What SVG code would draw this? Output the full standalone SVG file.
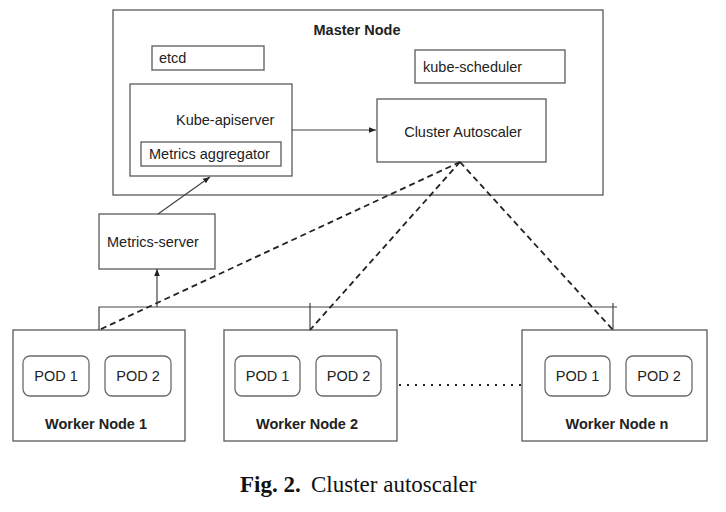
<svg xmlns="http://www.w3.org/2000/svg" width="726" height="512" viewBox="0 0 726 512">
<defs>
<style>
.box{fill:#fff;stroke:#5a5a5a;stroke-width:1.3}
.pod{fill:#fff;stroke:#6a6a6a;stroke-width:1.3}
.t{font-family:"Liberation Sans",Arial,sans-serif;font-size:14.5px;fill:#222}
.b{font-weight:bold}
.ln{fill:none;stroke:#444;stroke-width:1.2}
.dash{fill:none;stroke:#222;stroke-width:1.8;stroke-dasharray:6 4}
.dot{fill:none;stroke:#222;stroke-width:1.8;stroke-dasharray:2 6}
.cap{font-family:"Liberation Serif","Times New Roman",serif;font-size:23px;fill:#111}
</style>
<marker id="ah" viewBox="0 0 10 10" refX="10" refY="5" markerWidth="7" markerHeight="7" markerUnits="userSpaceOnUse" orient="auto">
<path d="M0,1 L10,5 L0,9 Z" fill="#222"/>
</marker>
</defs>
<rect width="726" height="512" fill="#fff"/>

<g id="master-node">
<rect class="box" x="113" y="10" width="490" height="185"/>
<text class="t b" x="357" y="35" text-anchor="middle">Master Node</text>
</g>
<g id="etcd">
<rect class="box" x="152" y="46" width="112" height="24"/>
<text class="t" x="159" y="63">etcd</text>
</g>
<g id="kube-scheduler">
<rect class="box" x="415" y="50" width="150" height="33"/>
<text class="t" x="423" y="72">kube-scheduler</text>
</g>
<g id="kube-apiserver">
<rect class="box" x="130" y="84" width="162" height="92"/>
<text class="t" x="176" y="125">Kube-apiserver</text>
</g>
<g id="metrics-aggregator">
<rect class="box" x="141" y="142" width="140" height="24"/>
<text class="t" x="149" y="159">Metrics aggregator</text>
</g>
<g id="cluster-autoscaler">
<rect class="box" x="377" y="99" width="169" height="63"/>
<text class="t" x="463" y="137" text-anchor="middle">Cluster Autoscaler</text>
</g>
<g id="metrics-server">
<rect class="box" x="99" y="214" width="116" height="55"/>
<text class="t" x="107" y="247">Metrics-server</text>
</g>

<g id="worker-node-1">
<rect class="box" x="13" y="330" width="172" height="111"/>
<rect class="pod" x="23" y="356" width="66" height="40" rx="7"/>
<text class="t" x="56" y="381" text-anchor="middle">POD 1</text>
<rect class="pod" x="105" y="356" width="66" height="40" rx="7"/>
<text class="t" x="138" y="381" text-anchor="middle">POD 2</text>
<text class="t b" x="96" y="429" text-anchor="middle">Worker Node 1</text>
</g>
<g id="worker-node-2">
<rect class="box" x="224" y="330" width="173" height="111"/>
<rect class="pod" x="235" y="356" width="65" height="40" rx="7"/>
<text class="t" x="267.5" y="381" text-anchor="middle">POD 1</text>
<rect class="pod" x="316" y="356" width="65" height="40" rx="7"/>
<text class="t" x="348.5" y="381" text-anchor="middle">POD 2</text>
<text class="t b" x="307" y="429" text-anchor="middle">Worker Node 2</text>
</g>
<g id="worker-node-n">
<rect class="box" x="522" y="330" width="185" height="111"/>
<rect class="pod" x="545" y="356" width="65" height="40" rx="7"/>
<text class="t" x="577.5" y="381" text-anchor="middle">POD 1</text>
<rect class="pod" x="626" y="356" width="66" height="40" rx="7"/>
<text class="t" x="659" y="381" text-anchor="middle">POD 2</text>
<text class="t b" x="617" y="429" text-anchor="middle">Worker Node n</text>
</g>

<g id="connectors">
<line class="ln" x1="292" y1="130" x2="376" y2="130" marker-end="url(#ah)"/>
<line class="ln" x1="158" y1="214" x2="210" y2="177" marker-end="url(#ah)"/>
<line class="ln" x1="157" y1="307" x2="157" y2="269" marker-end="url(#ah)"/>
<polyline class="ln" points="99,330 99,307 617,307"/>
<line class="ln" x1="310" y1="303" x2="310" y2="330"/>
<line class="ln" x1="613" y1="303" x2="613" y2="330"/>
<line class="dash" x1="460" y1="162" x2="99" y2="330"/>
<line class="dash" x1="460" y1="162" x2="310" y2="330"/>
<line class="dash" x1="460" y1="162" x2="613" y2="330"/>
<line class="dot" x1="399" y1="385" x2="522" y2="385"/>
</g>

<text class="cap" y="492"><tspan x="240" font-weight="bold">Fig. 2.</tspan><tspan x="311">Cluster autoscaler</tspan></text>
</svg>
